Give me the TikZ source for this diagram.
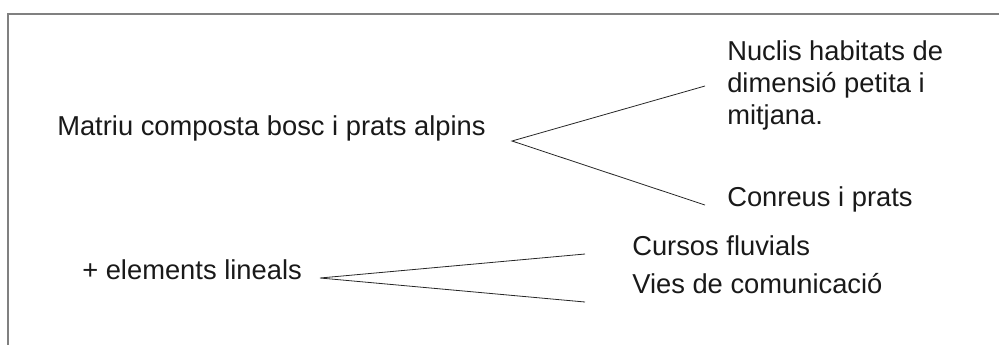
\documentclass[tikz,border=0pt]{standalone}
\usepackage{fontspec}
\setmainfont{Liberation Sans}
\usetikzlibrary{positioning,calc}
\definecolor{framegray}{HTML}{808080}
\tikzstyle{lbl} = [anchor=base west,inner sep=0pt,font=\fontsize{20.5}{24}\selectfont,text=black!90]
\tikzstyle{blk} = [lbl,align=left]
\tikzstyle{wire} = [line width=0.6pt,black!85]

\begin{document}
\begin{tikzpicture}[x=0.75pt,y=-0.75pt]
    \useasboundingbox (0,0) rectangle (999,344);
    \draw [framegray,line width=2pt] (8,360) -- (8,14) -- (1010,14);
    % first group
    \node [lbl] (matriu) at (57,135) {Matriu composta bosc i prats alpins};
    \coordinate (m) at (512,141);
    \node [blk] (nuclis) at (727,124) {Nuclis habitats de\\dimensió petita i\\mitjana.};
    \node [lbl] (conreus) at (727,206) {Conreus i prats};
    \coordinate (n) at (705,86);
    \coordinate (c) at (705,205);
    \draw [wire] (n) -- (m) -- (c);
    % second group
    \node [lbl] (lineals) at (82,279) {+ elements lineals};
    \coordinate (l) at (320,278);
    \node [lbl] (cursos) at (632,255) {Cursos fluvials};
    \node [lbl] (vies) at (632,293) {Vies de comunicació};
    \coordinate (f) at (585,254);
    \coordinate (v) at (585,302);
    \draw [wire] (f) -- (l) -- (v);
  \end{tikzpicture}
\end{document}
